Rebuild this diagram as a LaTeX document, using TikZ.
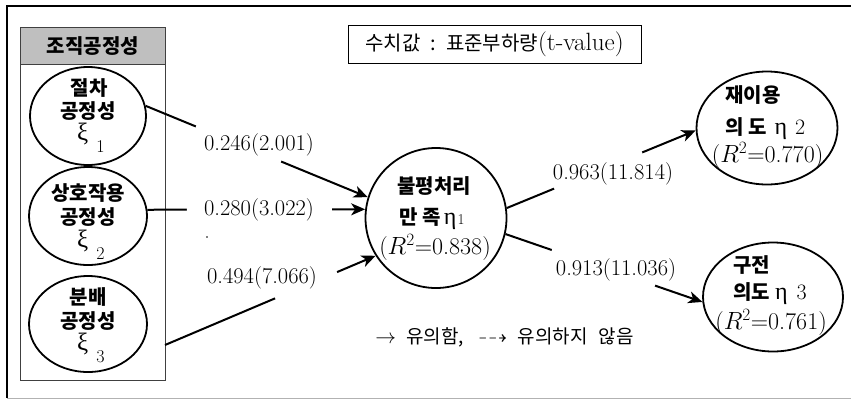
\documentclass[tikz,border=0pt]{standalone}
\usepackage{amssymb}
\usepackage{fontspec}
\usetikzlibrary{arrows.meta,shapes.geometric}
\newfontfamily\kr{Noto Sans CJK KR}
\newfontfamily\grk{Liberation Serif}
\newcommand\xisub[1]{{\grk\fontsize{25}{25}\selectfont ξ}\hspace{8pt}\raisebox{-12pt}{\fontsize{18}{18}\selectfont #1}}
\newcommand\etaG{{\grk\fontsize{24}{24}\selectfont η}}
\begin{document}
\begin{tikzpicture}[x=1pt,y=-1pt,
  oval/.style={draw, ellipse, line width=1.8pt, inner sep=0pt},
  lbl/.style={font=\fontsize{22.5}{22.5}\selectfont, inner sep=0pt},
  kb/.style={font=\kr\bfseries\fontsize{20}{20}\selectfont, inner sep=0pt},
  rr/.style={font=\fontsize{21}{21}\selectfont, inner sep=0pt},
  rsq/.style={font=\fontsize{24}{24}\selectfont, inner sep=0pt},
  conn/.style={line width=2pt, -{Stealth[length=14pt,width=12pt,inset=4pt]}},
  gap/.style={sloped, fill=white, inner sep=0pt, minimum height=7pt},
]
\fill[white] (0,0) rectangle (851,400);
\useasboundingbox (0,0) rectangle (851,400);
% frame
\draw[line width=2.5pt] (851,6) -- (7,6) -- (7,398);
\draw[gray!60, line width=1.2pt] (7,398.5) -- (851,398.5);
% group box
\node[draw=black!75, line width=0.8pt, anchor=north west, minimum width=145, minimum height=353, inner sep=0pt] (grp) at (20,27) {};
\node[draw=black!75, fill=gray!50, line width=0.8pt, anchor=north west, minimum width=145, minimum height=37, kb] (hdr) at (20,27) {조직공정성};
% ellipses
\node[oval, minimum width=116, minimum height=98] (e1) at (88,116) {};
\node[oval, minimum width=118, minimum height=98] (e2) at (88,216) {};
\node[oval, minimum width=118, minimum height=96] (e3) at (88,324) {};
\node[oval, minimum width=141, minimum height=140] (c) at (436,218) {};
\node[oval, minimum width=141, minimum height=113] (r1) at (767,128) {};
\node[oval, minimum width=140, minimum height=109] (r2) at (773,297) {};
% ellipse texts
\node[kb] (t1a) at (89,88) {절차};
\node[kb] (t1b) at (88,111) {공정성};
\node[rr, anchor=base west] (t1c) at (77,140) {\xisub{1}};
\node[kb] (t2a) at (88,193) {상호작용};
\node[kb] (t2b) at (88,217) {공정성};
\node[rr, anchor=base west] (t2c) at (77,247) {\xisub{2}};
\node[kb] (t3a) at (88,297) {분배};
\node[kb] (t3b) at (88,321) {공정성};
\node[rr, anchor=base west] (t3c) at (77,350) {\xisub{3}};
\node[kb] (ca) at (434,186) {불평처리};
\node[kb] (cb) at (432,218.5) {만 족\hspace{3pt}{\normalfont\etaG\hspace{1pt}{\rmfamily\fontsize{15}{15}\selectfont 1}}};
\node[rsq] (cc) at (435,247) {($R^2$=0.838)};
\node[kb, anchor=west] (r1a) at (725,95) {재이용};
\node[kb, anchor=west] (r1b) at (725,128.5) {의 도\hspace{8pt}{\normalfont\etaG\hspace{8pt}{\rmfamily\fontsize{22}{22}\selectfont 2}}};
\node[rsq] (r1c) at (767.5,155) {($R^2$=0.770)};
\node[kb, anchor=west] (r2a) at (733,265.5) {구전};
\node[kb, anchor=west] (r2b) at (733,294) {의도\hspace{5pt}{\normalfont\etaG\hspace{9pt}{\rmfamily\fontsize{22}{22}\selectfont 3}}};
\node[rsq] (r2c) at (771,322) {($R^2$=0.761)};
% connectors
\draw[conn] (e1.10) -- node[gap, pos=0.418, minimum width=92] (g1) {} (c.163);
\draw[conn] (e2.6) -- node[gap, pos=0.514, minimum width=145] (g2) {} (c.173);
\coordinate (s3) at (165,345);
\draw[conn] (s3) -- node[gap, pos=0.67, minimum width=67] (g3) {} (c.212);
\draw[conn] (c.8) -- node[gap, pos=0.484, minimum width=95] (g4) {} (r1.182);
\draw[conn] (c.-13) -- node[gap, pos=0.497, minimum width=109] (g5) {} (r2.184);
% labels
\node[lbl] (l1) at (259,145) {0.246(2.001)};
\node[lbl] (l2) at (259,210) {0.280(3.022)};
\node[lbl] (l3) at (262,278) {0.494(7.066)};
\node[lbl] (l4) at (613,174) {0.963(11.814)};
\node[lbl] (l5) at (616,270) {0.913(11.036)};
\fill (207,237) circle (0.8);
% key
\node[draw, line width=0.8pt, minimum width=293, minimum height=38, inner sep=0pt, font=\kr\fontsize{20}{20}\selectfont] (key) at (494.5,44) {수치값\hspace{10pt}:\hspace{10pt}표준부하량{\rmfamily\fontsize{25}{25}\selectfont(t-value)}};
\node[font=\kr\fontsize{19}{19}\selectfont, inner sep=0pt] (leg) at (504.5,337) {{\rmfamily\fontsize{20}{20}\selectfont$\rightarrow$}\hspace{10pt}유의함,\hspace{14pt}{\rmfamily\fontsize{20}{20}\selectfont$\dashrightarrow$}\hspace{10pt}유의하지\hspace{11pt}않음};
\end{tikzpicture}
\end{document}
